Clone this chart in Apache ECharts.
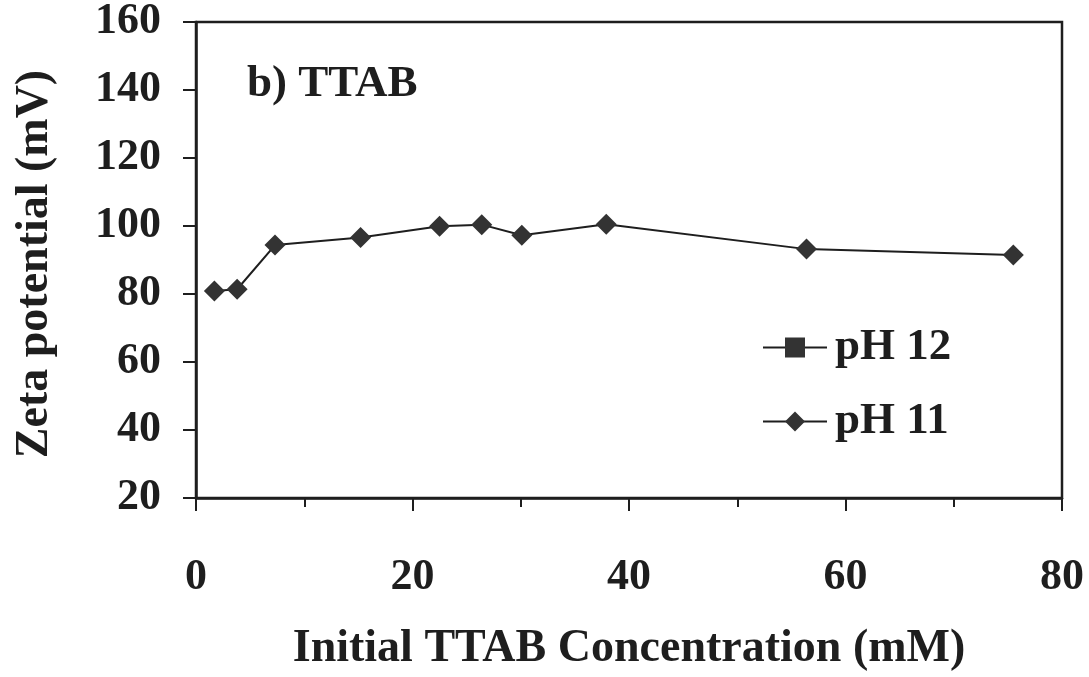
<!DOCTYPE html>
<html>
<head>
<meta charset="utf-8">
<script src="https://cdn.jsdelivr.net/npm/echarts@6/dist/echarts.min.js"></script>
<style>
  html, body { margin: 0; padding: 0; background: #fff; }
  #chart { width: 1089px; height: 677px; }
</style>
</head>
<body>
<div id="chart"></div>
<script>
// Initial TTAB concentration (mM)
const concentration = [1.7, 3.8, 7.3, 15.2, 22.5, 26.4, 30.1, 37.9, 56.4, 75.5];
// Zeta potential (mV) at pH 11
const zetaPH11 = [80.9, 81.4, 94.4, 96.6, 99.9, 100.4, 97.3, 100.5, 93.2, 91.5];
// Zeta potential (mV) at pH 12 (legend entry only in this panel)
const zetaPH12 = [];

const seriesNames = ['pH 12', 'pH 11'];
const xTicks = { min: 0, max: 80, interval: 20 };
const yTicks = { min: 20, max: 160, interval: 20 };

const ink = '#1e1e1e';
const font = '"Liberation Serif", "Times New Roman", serif';

const pairs = (xs, ys) => xs.map((x, i) => [x, ys[i]]);

const chart = echarts.init(document.getElementById('chart'));
chart.setOption({
  backgroundColor: '#fff',
  animation: false,
  title: {
    text: 'b) TTAB',
    left: 242,
    top: 57,
    textStyle: { fontFamily: font, fontWeight: 'bold', fontSize: 45, color: ink }
  },
  legend: {
    data: seriesNames,
    orient: 'vertical',
    left: 757,
    top: 320,
    itemWidth: 64,
    itemHeight: 25,
    itemGap: 29,
    textStyle: {
      fontFamily: font, fontWeight: 'bold', fontSize: 45, color: ink,
      padding: [0, 0, 0, 3]
    }
  },
  grid: {
    left: 196, right: 27, top: 20, bottom: 173,
    show: true, borderColor: ink, borderWidth: 2.5, backgroundColor: 'transparent'
  },
  xAxis: {
    type: 'value',
    min: xTicks.min, max: xTicks.max, interval: xTicks.interval,
    name: 'Initial TTAB Concentration (mM)',
    nameLocation: 'middle',
    nameGap: 128,
    nameTextStyle: { fontFamily: font, fontWeight: 'bold', fontSize: 46, color: ink },
    axisLine: { show: true, lineStyle: { color: ink, width: 2.5 } },
    axisTick: { show: true, length: 13, lineStyle: { color: ink, width: 2 } },
    minorTick: { show: true, splitNumber: 2, length: 9, lineStyle: { color: ink, width: 2 } },
    splitLine: { show: false },
    axisLabel: { fontFamily: font, fontWeight: 'bold', fontSize: 44, color: ink, margin: 58 }
  },
  yAxis: {
    type: 'value',
    min: yTicks.min, max: yTicks.max, interval: yTicks.interval,
    name: 'Zeta potential (mV)',
    nameLocation: 'middle',
    nameGap: 138,
    nameTextStyle: {
      fontFamily: font, fontWeight: 'bold', fontSize: 46, color: ink,
      padding: [0, 8, 0, 0]
    },
    axisLine: { show: true, lineStyle: { color: ink, width: 2.5 } },
    axisTick: { show: true, length: 13, lineStyle: { color: ink, width: 2 } },
    splitLine: { show: false },
    axisLabel: { fontFamily: font, fontWeight: 'bold', fontSize: 44, color: ink, margin: 35 }
  },
  series: [
    {
      name: 'pH 12',
      type: 'line',
      data: pairs([], zetaPH12),
      symbol: 'rect',
      symbolSize: 18,
      itemStyle: { color: '#333' },
      lineStyle: { color: ink, width: 2 }
    },
    {
      name: 'pH 11',
      type: 'line',
      data: pairs(concentration, zetaPH11),
      symbol: 'diamond',
      symbolSize: 21,
      showAllSymbol: true,
      itemStyle: { color: '#333' },
      lineStyle: { color: ink, width: 2 }
    }
  ]
});
</script>
</body>
</html>
